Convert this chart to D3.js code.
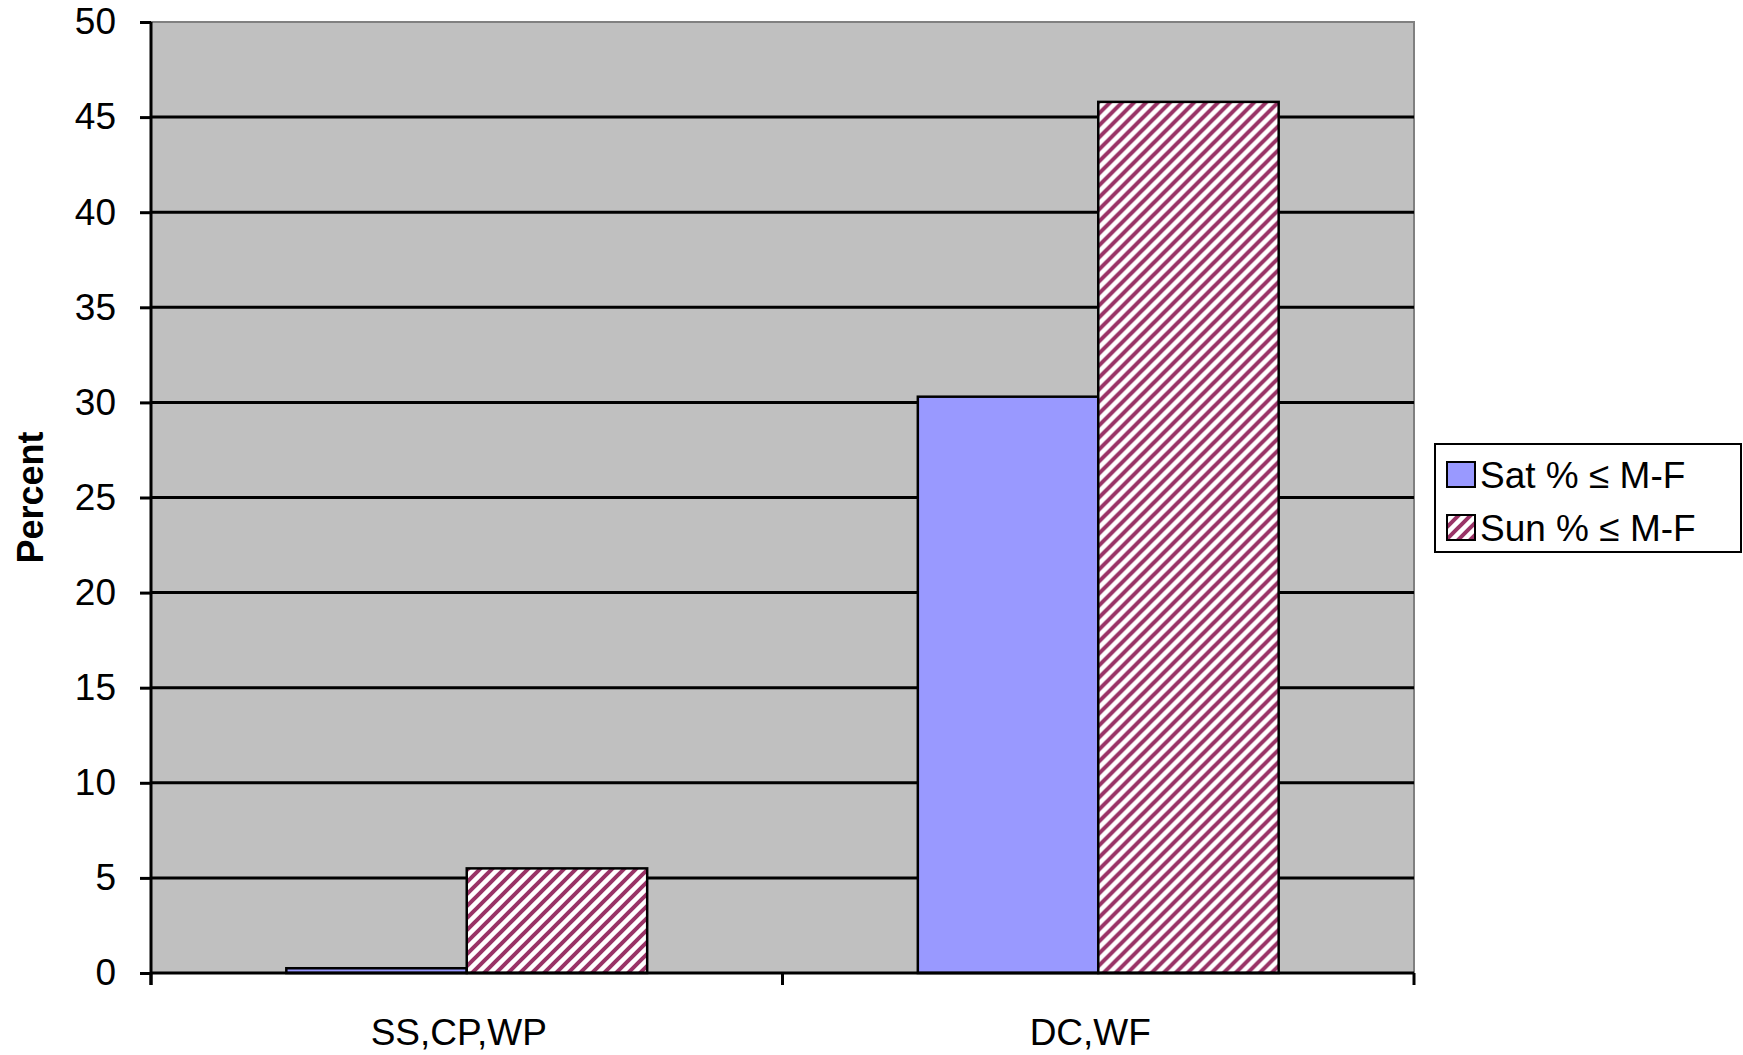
<!DOCTYPE html>
<html>
<head>
<meta charset="utf-8">
<script src="https://cdn.jsdelivr.net/npm/d3@7"></script>
<style>
  body { margin: 0; background: #fff; }
  text { font-family: Arial, "Liberation Sans", sans-serif; }
</style>
</head>
<body>
<div class="chart-container"></div>
<script>
const categories = ["SS,CP,WP", "DC,WF"];
const seriesNames = ["Sat % \u2264 M-F", "Sun % \u2264 M-F"];
const satValues = [0.25, 30.3];
const sunValues = [5.5, 45.8];
const yTicks = [0, 5, 10, 15, 20, 25, 30, 35, 40, 45, 50];

const margin = {top: 22, right: 329, bottom: 82, left: 151},
  width = 1743 - margin.left - margin.right,
  height = 1055 - margin.top - margin.bottom;

const svg = d3.select(".chart-container").append("svg")
    .attr("width", 1743)
    .attr("height", 1055);

// hatch for the sunday bars
const defs = svg.append("defs");
const pat = defs.append("pattern")
    .attr("id", "hatch")
    .attr("patternUnits", "userSpaceOnUse")
    .attr("width", 12)
    .attr("height", 12);
pat.append("rect").attr("width", 12).attr("height", 12).attr("fill", "#fff");
pat.append("path")
    .attr("d", "M0,12 L12,0 M-3,3 L3,-3 M9,15 L15,9")
    .attr("stroke", "#993366")
    .attr("stroke-width", 4);

const g = svg.append("g")
    .attr("transform", "translate(" + margin.left + "," + margin.top + ")");

const x = d3.scaleBand().domain(categories).range([0, width]);
const x1 = d3.scaleBand().domain(seriesNames).range([0, x.bandwidth()]).paddingOuter(0.75).paddingInner(0);
const y = d3.scaleLinear().domain([0, 50]).range([height, 0]);

g.append("rect")
    .attr("width", width)
    .attr("height", height)
    .attr("fill", "#c0c0c0");

// plot border (top + right are grey)
g.append("path")
    .attr("d", "M0,0 H" + width + " V" + height)
    .attr("fill", "none")
    .attr("stroke", "#808080")
    .attr("stroke-width", 2);

g.selectAll(".grid")
    .data(yTicks.filter((d) => d > 0 && d < 50))
  .enter().append("line")
    .attr("x1", 0)
    .attr("x2", width)
    .attr("y1", (d) => y(d))
    .attr("y2", (d) => y(d))
    .attr("stroke", "#000")
    .attr("stroke-width", 3);

const rows = categories.map((c, i) => ({cat: c, vals: [satValues[i], sunValues[i]]}));

const grp = g.selectAll(".grp")
    .data(rows)
  .enter().append("g")
    .attr("transform", (d) => "translate(" + x(d.cat) + ",0)");

grp.selectAll("rect")
    .data((d) => d.vals.map((v, j) => ({name: seriesNames[j], v: v, j: j})))
  .enter().append("rect")
    .attr("x", (d) => x1(d.name))
    .attr("width", x1.bandwidth())
    .attr("y", (d) => y(d.v))
    .attr("height", (d) => height - y(d.v))
    .attr("fill", (d) => d.j === 0 ? "#9999ff" : "url(#hatch)")
    .attr("stroke", "#000")
    .attr("stroke-width", 2.5);

// y axis
const yAxis = g.append("g")
    .call(d3.axisLeft(y).tickValues(yTicks).tickSize(11).tickPadding(24).tickFormat(d3.format("d")));
yAxis.select(".domain").attr("stroke-width", 3).attr("d", "M0,0 V" + (height + 12));
yAxis.selectAll(".tick line").attr("stroke-width", 3);
yAxis.selectAll("text").attr("font-size", 37).attr("fill", "#000");

// x axis
const xAxis = g.append("g")
    .attr("transform", "translate(0," + height + ")");
xAxis.append("line")
    .attr("x1", 0).attr("x2", width)
    .attr("stroke", "#000").attr("stroke-width", 3);
xAxis.selectAll(".xt")
    .data([0, x.bandwidth(), width])
  .enter().append("line")
    .attr("x1", (d) => d).attr("x2", (d) => d)
    .attr("y1", 0).attr("y2", 12)
    .attr("stroke", "#000").attr("stroke-width", 3);
xAxis.selectAll(".xl")
    .data(categories)
  .enter().append("text")
    .attr("x", (d) => x(d) + x.bandwidth() / 2 - 8)
    .attr("y", 72)
    .attr("text-anchor", "middle")
    .attr("font-size", 37)
    .text((d) => d);

svg.append("text")
    .attr("transform", "translate(43," + (margin.top + height / 2) + ") rotate(-90)")
    .attr("text-anchor", "middle")
    .attr("font-size", 36)
    .attr("font-weight", "bold")
    .text("Percent");

// legend
const leg = svg.append("g").attr("transform", "translate(1435,444)");
leg.append("rect")
    .attr("width", 306)
    .attr("height", 108)
    .attr("fill", "#fff")
    .attr("stroke", "#000")
    .attr("stroke-width", 2);
const item = leg.selectAll(".item")
    .data(seriesNames)
  .enter().append("g")
    .attr("transform", (d, i) => "translate(12," + (18 + i * 53) + ")");
item.append("rect")
    .attr("width", 28)
    .attr("height", 25)
    .attr("fill", (d, i) => i === 0 ? "#9999ff" : "url(#hatch)")
    .attr("stroke", "#000")
    .attr("stroke-width", 2);
item.append("text")
    .attr("x", 33)
    .attr("y", 26)
    .attr("font-size", 37)
    .text((d) => d);
</script>
</body>
</html>
